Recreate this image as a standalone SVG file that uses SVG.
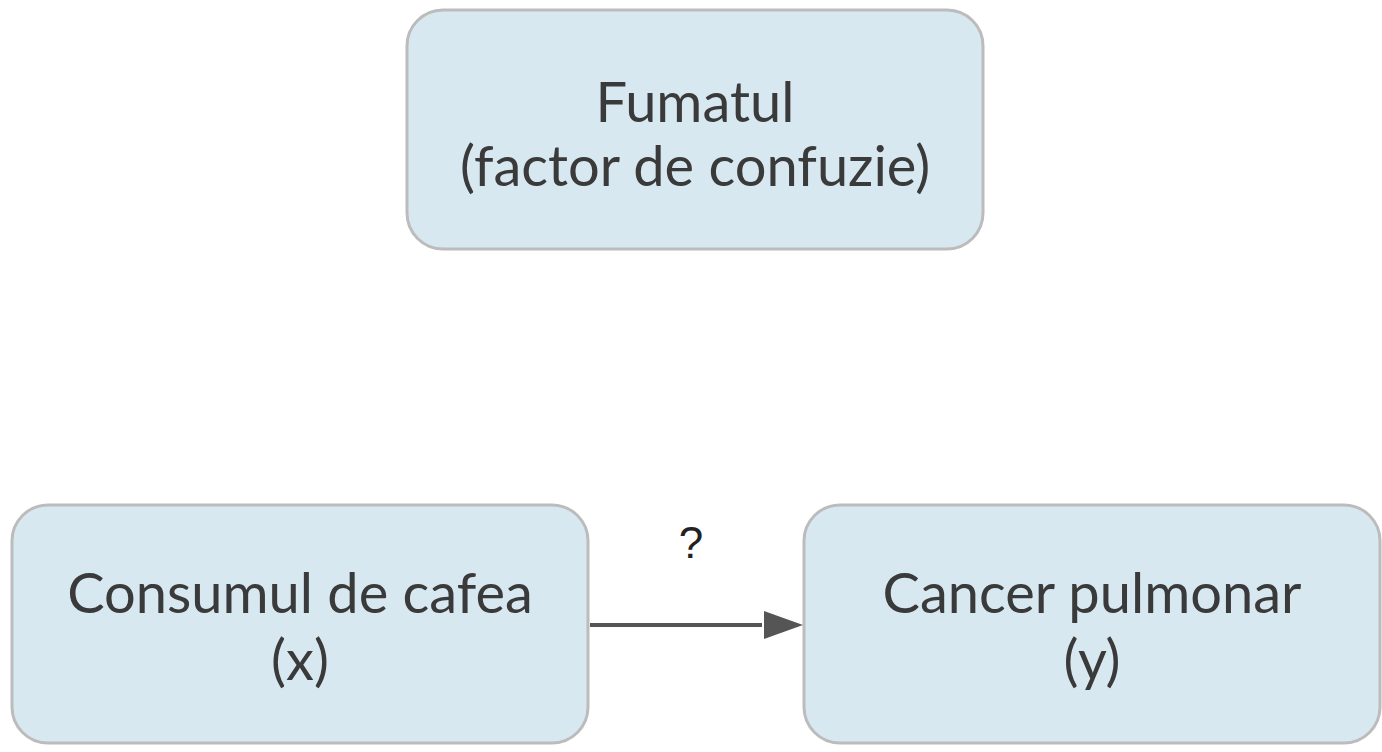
<svg xmlns="http://www.w3.org/2000/svg" width="1382" height="752" viewBox="0 0 1382 752">
<style>
.box{fill:#d7e8f0;stroke:#bcbcbc;stroke-width:3}
.t{font-family:Lato,"Liberation Sans",sans-serif;font-size:56px;fill:#3a3a3a;text-anchor:middle}
</style>
<rect width="1382" height="752" fill="#fff"/>
<g id="fumatul"><rect class="box" x="407" y="10" width="576" height="239" rx="36"/>
<text class="t" x="695" y="122">Fumatul</text><text class="t" x="695" y="186">(factor de confuzie)</text></g>
<g id="cafea"><rect class="box" x="12" y="505" width="576" height="238" rx="36"/>
<text class="t" x="300" y="613">Consumul de cafea</text><text class="t" x="300" y="680">(x)</text></g>
<g id="cancer"><rect class="box" x="804" y="505" width="576" height="238" rx="36"/>
<text class="t" x="1092" y="613">Cancer pulmonar</text><text class="t" x="1092" y="680">(y)</text></g>
<g id="connectors"><line x1="590" y1="625" x2="762" y2="625" stroke="#555" stroke-width="4"/>
<path d="M764,611L803,625L764,639z" fill="#555"/>
<text x="691" y="558" font-family="Liberation Sans,sans-serif" font-size="44" fill="#222" text-anchor="middle">?</text></g>
</svg>
